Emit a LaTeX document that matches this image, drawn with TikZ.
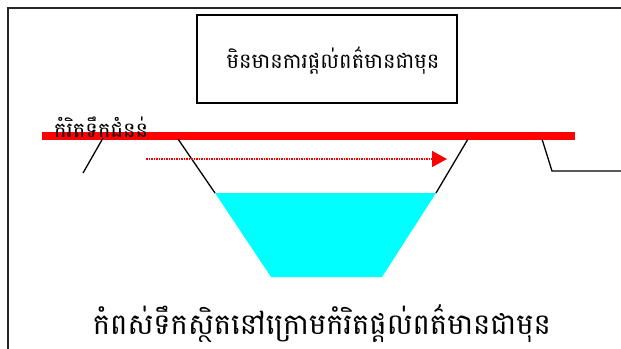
\documentclass[tikz,border=0pt]{standalone}
\usepackage{fontspec}
\newfontfamily\khmerfont[Script=Khmer]{Battambang}
\usetikzlibrary{arrows.meta}
\definecolor{water}{RGB}{0,255,255}

\begin{document}
\begin{tikzpicture}[x=1pt,y=-1pt,
    khtext/.style={font=\khmerfont,inner sep=0pt},
    bank/.style={line width=1.3pt,black}]
    \useasboundingbox (0,0) rectangle (621,348);
    % Frame (open to the right and bottom):
    \draw [line width=2pt,black!85] (8,352) -- (8,8) -- (625,8);

    % Title box:
    \node [draw,line width=1.3pt,minimum width=260pt,minimum height=88pt,inner sep=0pt]
        (title) at (327,59) {};
    \node [khtext,font=\khmerfont\fontsize{21}{24}\selectfont,anchor=base] (titletext) at (333,68) {មិនមានការផ្ដល់ពត៌មានជាមុន};

    % Warning level (red line):
    \coordinate (levelL) at (42,136);
    \coordinate (levelR) at (575,136);
    \draw [red,line width=8pt] (levelL) -- (levelR);

    % Banks of the river:
    \coordinate (lbankA) at (103,138);
    \coordinate (lbankB) at (83,173);
    \draw [bank] (lbankA) -- (lbankB);
    \coordinate (rbankA) at (542,139);
    \coordinate (rbankB) at (552,171);
    \coordinate (rbankC) at (625,171);
    \draw [bank] (rbankA) -- (rbankB) -- (rbankC);

    % Water in the channel:
    \coordinate (wTL) at (215,193);
    \coordinate (wTR) at (436,193);
    \coordinate (wBR) at (382,277);
    \coordinate (wBL) at (271,277);
    \fill [water] (wTL) -- (wTR) -- (wBR) -- (wBL) -- cycle;
    \coordinate (chTL) at (178,139);
    \coordinate (chTR) at (468,139);
    \draw [bank] (chTL) -- (wTL);
    \draw [bank] (chTR) -- (wTR);

    % Flow arrow:
    \coordinate (flowA) at (146,159);
    \coordinate (flowB) at (447,159);
    \draw [red,line width=1.5pt,densely dotted,-{Triangle[length=15pt,width=16pt]}] (flowA) -- (flowB);

    % Labels:
    \node [khtext,font=\khmerfont\fontsize{21}{24}\selectfont,anchor=base west] (levelname) at (54,137) {កំរិតទឹកជំនន់};
    \node [khtext,font=\khmerfont\fontsize{29}{32}\selectfont,anchor=base] (caption) at (322,334) {កំពស់ទឹកស្ថិតនៅក្រោមកំរិតផ្ដល់ពត៌មានជាមុន};
\end{tikzpicture}
\end{document}
